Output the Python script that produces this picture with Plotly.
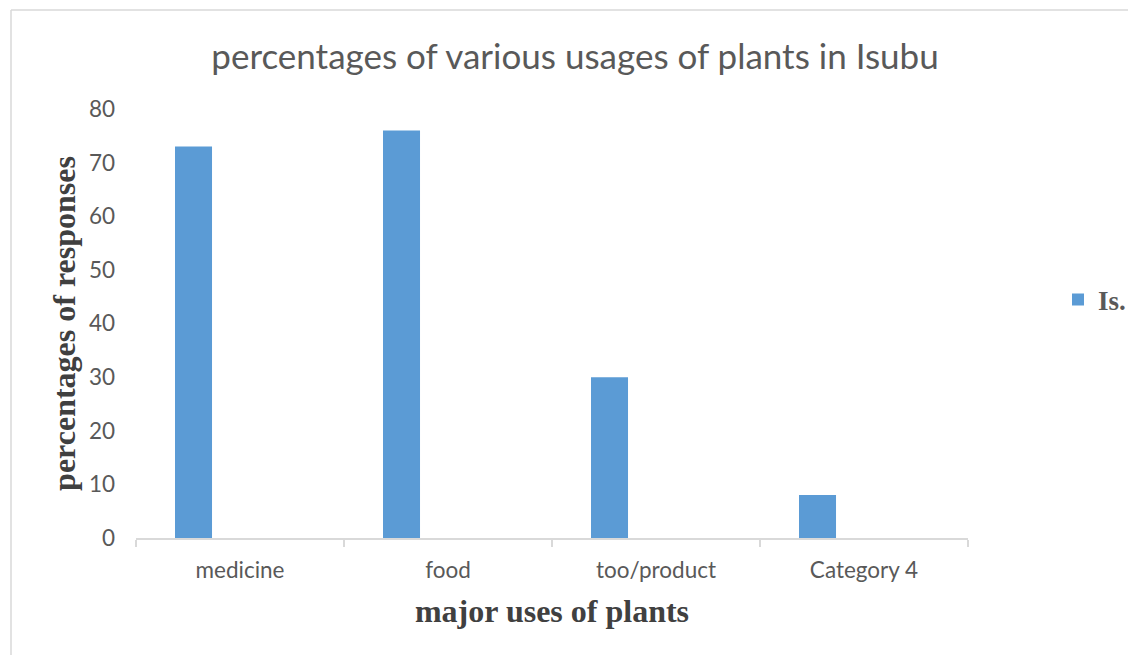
import plotly.graph_objects as go

categories = ["medicine", "food", "too/product", "Category 4"]
values = [73, 76, 30, 8]
y_ticks = [0, 10, 20, 30, 40, 50, 60, 70, 80]
series_name = "Is."

W, H = 1128, 655
L, R, T, B = 136, 160, 109, 117
pw, ph = W - L - R, H - T - B

def px_x(x):
    return (x - L) / pw

def px_y(y):
    return (H - B - y) / ph

fig = go.Figure()
fig.add_trace(go.Bar(
    x=categories, y=values, name=series_name,
    marker=dict(color="#5b9bd5", line=dict(width=0)),
    width=0.178, offset=-0.3125, showlegend=True,
))

grey = "#595959"
fig.update_layout(
    width=W, height=H,
    margin=dict(l=L, r=R, t=T, b=B, autoexpand=False),
    paper_bgcolor="white", plot_bgcolor="white",
    title=dict(text="percentages of various usages of plants in Isubu",
               x=575 / W, xanchor="center", y=1 - 57 / H, yanchor="middle",
               font=dict(family="Lato", size=35, color=grey)),
    showlegend=True,
    legend=dict(x=px_x(1058), y=px_y(300), xanchor="left", yanchor="middle",
                font=dict(family="Liberation Serif", size=27, color=grey, weight="bold"),
                bgcolor="rgba(0,0,0,0)"),
    xaxis=dict(
        type="category", range=[-0.5, 3.5],
        showline=True, linecolor="#d9d9d9", linewidth=1.5,
        ticks="outside", tickson="boundaries", ticklen=7, tickcolor="#d9d9d9", tickwidth=1.5,
        showgrid=False, zeroline=False,
        tickfont=dict(family="Lato", size=22.5, color=grey),
        ticklabelstandoff=11,
        title=dict(text="major uses of plants", standoff=18,
                   font=dict(family="Liberation Serif", size=32, color="#404040", weight="bold")),
    ),
    yaxis=dict(
        range=[0, 80], tickvals=y_ticks, showgrid=False, zeroline=False, showline=False,
        ticks="", tickfont=dict(family="Lato", size=22.5, color=grey),
        ticklabelstandoff=20,
        title=dict(text="percentages of responses", standoff=3,
                   font=dict(family="Liberation Serif", size=32, color="#404040", weight="bold")),
    ),
    shapes=[
        dict(type="line", xref="paper", yref="paper", x0=px_x(11), x1=px_x(11),
             y0=px_y(H + 5), y1=px_y(10), line=dict(color="#d9d9d9", width=1.5)),
        dict(type="line", xref="paper", yref="paper", x0=px_x(11), x1=px_x(W + 5),
             y0=px_y(10), y1=px_y(10), line=dict(color="#d9d9d9", width=1.5)),
    ],
)

fig.write_html("out.html")
